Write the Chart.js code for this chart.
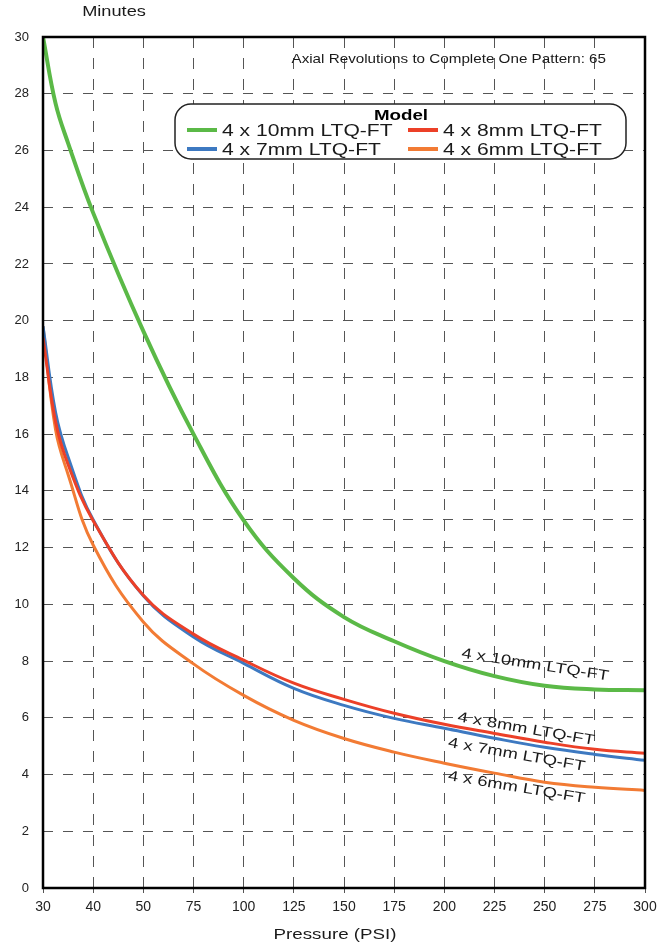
<!DOCTYPE html>
<html>
<head>
<meta charset="utf-8">
<script src="https://cdn.jsdelivr.net/npm/chart.js@4.4.1/dist/chart.umd.min.js"></script>
<style>
  body { margin: 0; background: #ffffff; }
  #grafico { display: block; }
</style>
</head>
<body>
<canvas id="grafico" width="666" height="946"></canvas>
<script>
// tick labels on the pressure axis (evenly spaced, not linear in PSI)
const pressureTicks = [30, 40, 50, 75, 100, 125, 150, 175, 200, 225, 250, 275, 300];
const pressurePoints = [30, 32.5, 35, 40, 50, 75, 100, 125, 150, 175, 200, 225, 250, 275, 300];

const minutes10mm = [30, 27.66, 26.26, 23.8, 19.63, 16.0, 12.96, 10.92, 9.55, 8.7, 8.0, 7.47, 7.13, 7.0, 6.97];
const minutes8mm = [19.4, 16.44, 14.93, 12.95, 10.32, 8.95, 8.03, 7.22, 6.65, 6.16, 5.77, 5.45, 5.14, 4.89, 4.75];
const minutes7mm = [19.8, 16.77, 15.19, 12.98, 10.3, 8.85, 7.92, 7.04, 6.44, 5.98, 5.63, 5.28, 4.96, 4.71, 4.5];
const minutes6mm = [19.8, 16.16, 14.58, 12.09, 9.38, 7.9, 6.79, 5.91, 5.27, 4.79, 4.4, 4.05, 3.73, 3.55, 3.44];

const modelNames = ['4 x 10mm LTQ-FT', '4 x 8mm LTQ-FT', '4 x 7mm LTQ-FT', '4 x 6mm LTQ-FT'];
const modelColors = ['#5bb947', '#ec4028', '#3d79c1', '#f27b34'];
const modelWidths = [4, 3, 3, 3];

const yTicks = [0, 2, 4, 6, 8, 10, 12, 13, 14, 16, 18, 20, 22, 24, 26, 28, 30];

const FONT = '"Liberation Sans", Arial, sans-serif';

// pressure -> position on the evenly spaced axis
const pressureToPos = (p) => {
  for (let i = 0; i < pressureTicks.length - 1; i++) {
    if (p <= pressureTicks[i + 1]) {
      return i + (p - pressureTicks[i]) / (pressureTicks[i + 1] - pressureTicks[i]);
    }
  }
  return pressureTicks.length - 1;
};

const toPoints = (values) => pressurePoints.map((p, i) => ({ x: pressureToPos(p), y: values[i] }));

const seriesValues = [minutes10mm, minutes8mm, minutes7mm, minutes6mm];

// the original text is a bit stretched sideways
const wideText = (ctx, text, x, y, sx, align) => {
  ctx.save();
  ctx.translate(x, y);
  ctx.scale(sx, 1);
  ctx.textAlign = align || 'left';
  ctx.textBaseline = 'middle';
  ctx.fillText(text, 0, 0);
  ctx.restore();
};

// label spots along the curves, in axis units
const curveLabels = [
  { x: 9.81, y: 7.86, angle: 8.9 },
  { x: 9.63, y: 5.60, angle: 9.9 },
  { x: 9.44, y: 4.69, angle: 10 },
  { x: 9.44, y: 3.54, angle: 9.5 }
];

const extrasPlugin = {
  id: 'extras',
  afterDraw: (chart) => {
    const ctx = chart.ctx;
    const area = chart.chartArea;
    const xs = chart.scales.x;
    const ys = chart.scales.y;

    // frame
    ctx.save();
    ctx.strokeStyle = '#000000';
    ctx.lineWidth = 2.5;
    ctx.strokeRect(area.left, area.top, area.right - area.left, area.bottom - area.top);
    ctx.restore();

    ctx.save();
    ctx.fillStyle = '#1a1a1a';
    ctx.font = '14px ' + FONT;
    wideText(ctx, 'Minutes', 114, 12, 1.3, 'center');
    ctx.font = '15px ' + FONT;
    wideText(ctx, 'Pressure (PSI)', 335, 935, 1.25, 'center');
    ctx.font = '13px ' + FONT;
    wideText(ctx, 'Axial Revolutions to Complete One Pattern: 65', 606, 59, 1.17, 'right');

    // curve labels
    ctx.font = '14.5px ' + FONT;
    curveLabels.forEach((lab, i) => {
      ctx.save();
      ctx.translate(xs.getPixelForValue(lab.x), ys.getPixelForValue(lab.y));
      ctx.rotate(lab.angle * Math.PI / 180);
      wideText(ctx, modelNames[i], 0, 0, 1.27, 'center');
      ctx.restore();
    });

    // legend box
    const box = { left: 175, top: 104, width: 451, height: 55, r: 16 };
    ctx.beginPath();
    ctx.roundRect(box.left, box.top, box.width, box.height, box.r);
    ctx.fillStyle = '#ffffff';
    ctx.fill();
    ctx.strokeStyle = '#222222';
    ctx.lineWidth = 1.5;
    ctx.stroke();

    ctx.fillStyle = '#000000';
    ctx.font = 'bold 15px ' + FONT;
    wideText(ctx, 'Model', 401, 116, 1.25, 'center');

    const cols = [187, 408];
    const rows = [130, 149];
    ctx.font = '17px ' + FONT;
    modelNames.forEach((name, i) => {
      const cx = cols[i % 2];
      const cy = rows[Math.floor(i / 2)];
      ctx.strokeStyle = modelColors[i];
      ctx.lineWidth = 4;
      ctx.beginPath();
      ctx.moveTo(cx, cy);
      ctx.lineTo(cx + 30, cy);
      ctx.stroke();
      ctx.fillStyle = '#1a1a1a';
      wideText(ctx, name, cx + 35, cy + 1, 1.24, 'left');
    });
    ctx.restore();
  }
};

const datasets = modelNames.map((name, i) => ({
  label: name,
  data: toPoints(seriesValues[i]),
  borderColor: modelColors[i],
  borderWidth: modelWidths[i],
  tension: 0.4,
  pointRadius: 0,
  fill: false
}));

const chart = new Chart(document.getElementById('grafico'), {
  type: 'line',
  data: { datasets: datasets },
  options: {
    responsive: false,
    animation: false,
    layout: { padding: { top: 37, right: 21, left: 0, bottom: 0 } },
    plugins: {
      legend: { display: false },
      tooltip: { enabled: false }
    },
    scales: {
      x: {
        type: 'linear',
        min: 0,
        max: pressureTicks.length - 1,
        afterFit: (s) => { s.height = 58; },
        ticks: {
          stepSize: 1,
          padding: 6,
          maxRotation: 0,
          autoSkip: false,
          color: '#222222',
          font: { family: FONT, size: 14 },
          callback: (v) => pressureTicks[v]
        },
        grid: { color: '#555555', lineWidth: 1, tickLength: 5 },
        border: { display: false, dash: [11, 10] }
      },
      y: {
        min: 0,
        max: 30,
        afterFit: (s) => { s.width = 43; },
        afterBuildTicks: (s) => { s.ticks = yTicks.map((v) => ({ value: v })); },
        ticks: {
          padding: 14,
          color: '#222222',
          font: { family: FONT, size: 13 },
          callback: (v) => (v === 13 ? '' : v)
        },
        grid: { color: '#555555', lineWidth: 1, drawTicks: false },
        border: { display: false, dash: [10, 10] }
      }
    }
  },
  plugins: [extrasPlugin]
});
</script>
</body>
</html>
